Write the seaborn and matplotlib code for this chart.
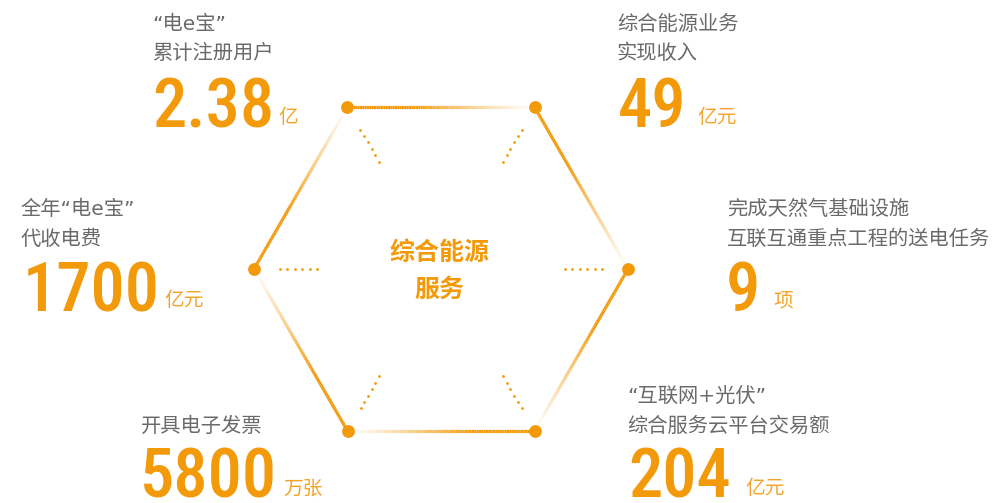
import numpy as np
import matplotlib
matplotlib.use("Agg")
import matplotlib.pyplot as plt
from matplotlib.collections import LineCollection
from matplotlib.colors import to_rgba
from matplotlib import font_manager as fm
from matplotlib.textpath import TextPath
import pandas as pd
import seaborn as sns

# ---------------- data ----------------
node_names = ["电e宝注册用户", "综合能源业务收入", "天然气互联互通", "互联网+光伏", "电子发票", "电e宝代收电费"]
title_lines = [
    ["“电e宝”", "累计注册用户"],
    ["综合能源业务", "实现收入"],
    ["完成天然气基础设施", "互联互通重点工程的送电任务"],
    ["“互联网+光伏”", "综合服务云平台交易额"],
    ["开具电子发票"],
    ["全年“电e宝”", "代收电费"],
]
value_texts = ["2.38", "49", "9", "204", "5800", "1700"]
unit_texts = ["亿", "亿元", "项", "亿元", "万张", "亿元"]
center_lines = ["综合能源", "服务"]

# ---------------- style ----------------
ORANGE = "#F39A0B"
ORANGE_LIGHT = "#F4A42C"
GRAY = "#6A6A6A"
CJK = ["Noto Sans CJK SC", "DejaVu Sans"]
TITLE = ["DejaVu Sans", "Noto Sans CJK SC"]

sns.set_theme(style="white")
plt.rcParams["font.family"] = CJK

# pick a narrow, medium-heavy sans font for the big numbers
prefs = ["NotoSans-ExtraCondensedSemiBold", "NotoSans-ExtraCondensedMedium",
         "NotoSans-ExtraCondensedBold",
         "RobotoCondensed-Medium", "RobotoCondensed-Bold", "LiberationSansNarrow-Bold.",
         "OpenSans-CondBold", "OpenSansCondensed-Bold",
         "NotoSans-CondensedSemiBold", "NotoSans-CondensedBold", "DejaVuSansCondensed-Bold."]
digit_file = None
for p in prefs:
    hits = [f.fname for f in fm.fontManager.ttflist if p in f.fname.replace(" ", "")]
    if hits:
        digit_file = hits[0]
        break
if digit_file is None:
    hits = [f.fname for f in fm.fontManager.ttflist
            if ("Condensed" in f.fname or "Narrow" in f.fname) and "Bold" in f.fname
            and "Italic" not in f.fname and "Oblique" not in f.fname]
    digit_file = hits[0] if hits else None
if digit_file:
    dprop = fm.FontProperties(fname=digit_file)
else:
    dprop = fm.FontProperties(family="DejaVu Sans", weight="bold", stretch="condensed")

# size: aim at digit height ~50 px and width ~132 px for "5800"
size = 50.0
ext = TextPath((0, 0), "5800", size=size, prop=dprop).get_extents()
wpx = ext.width * 100 / 72
hpx = ext.height * 100 / 72
size_h = size * 50 / hpx
wpx_h = wpx * size_h / size
size_final = size_h * np.sqrt(140 / wpx_h) if wpx_h > 140 else size_h
dprop.set_size(size_final)


def text_width_px(s, prop):
    e = TextPath((0, 0), s, size=prop.get_size_in_points(), prop=prop).get_extents()
    return (e.x0 + e.width) * 100 / 72


W, H = 1001, 503
fig = plt.figure(figsize=(W / 100, H / 100), dpi=100)
ax = fig.add_axes([0, 0, 1, 1])

# hexagon geometry (layout)
cx, cy, R = 441, 269, 187
angles = np.deg2rad(240 + 60 * np.arange(6))
vx = cx + R * np.cos(angles)
vy = cy + R * np.sin(angles)
nodes = pd.DataFrame({"name": node_names, "x": vx, "y": vy})

# gradient edges: solid at start vertex, fading toward next vertex (clockwise)
base = np.array(to_rgba(ORANGE))
segs, cols = [], []
n = 80
for k in range(6):
    x0, y0 = vx[k], vy[k]
    x1, y1 = vx[(k + 1) % 6], vy[(k + 1) % 6]
    t = np.linspace(0, 1, n + 1)
    xs = x0 + (x1 - x0) * t
    ys = y0 + (y1 - y0) * t
    for i in range(n):
        tm = (t[i] + t[i + 1]) / 2
        a = np.clip((1 - tm) * 1.55, 0, 1) ** 1.2
        c = base.copy()
        c[3] = a
        segs.append([(xs[i], ys[i]), (xs[i + 1], ys[i + 1])])
        cols.append(c)
ax.add_collection(LineCollection(segs, colors=cols, linewidths=2.3, capstyle="butt", zorder=2))

# dotted spokes toward the centre
spoke_rows = []
for k in range(6):
    ux, uy = cx - vx[k], cy - vy[k]
    L = np.hypot(ux, uy)
    for d in np.linspace(26, 63, 6):
        spoke_rows.append({"x": vx[k] + ux / L * d, "y": vy[k] + uy / L * d, "name": node_names[k]})
spokes = pd.DataFrame(spoke_rows)
sns.scatterplot(data=spokes, x="x", y="y", ax=ax, color=ORANGE, s=4, linewidth=0, legend=False, zorder=3)

# vertex dots
sns.scatterplot(data=nodes, x="x", y="y", ax=ax, color=ORANGE, s=85, linewidth=0, legend=False, zorder=4)
ax.set_xlim(0, W)
ax.set_ylim(H, 0)
ax.axis("off")

# centre title
for s, yy in zip(center_lines, [253, 290]):
    ax.text(cx - 2, yy, s, color=ORANGE, fontsize=18, fontweight="bold",
            ha="center", va="center", family=CJK)

# text block layout: title x, last title line centre y, value x, value baseline y, unit x, unit centre y
layout = [
    (152, 53.5, 152, 127, 273, 117),
    (617, 53.5, 618, 127, 697, 117),
    (727, 239, 726, 311, 773, 301),
    (627, 426, 628, 497, 745, 488),
    (141, 426, 140, 497, 283, 489),
    (21, 239, 23, 311, 155, 300),
]
LS = 29.5
for k in range(6):
    tx, ty, nx, ny, ux, uy = layout[k]
    lines = title_lines[k]
    m = len(lines)
    for j, s in enumerate(lines):
        ax.text(tx, ty - (m - 1 - j) * LS, s, color=GRAY, fontsize=14.6,
                ha="left", va="center", family=TITLE)
    ax.text(nx, ny, value_texts[k], color=ORANGE, ha="left", va="baseline",
            fontproperties=dprop)
    ux = max(ux, nx + text_width_px(value_texts[k], dprop) + 8)
    ax.text(ux, uy, unit_texts[k], color=ORANGE_LIGHT, fontsize=14.2,
            ha="left", va="center", family=CJK)

fig.savefig("out.png", dpi=100, facecolor="white")
